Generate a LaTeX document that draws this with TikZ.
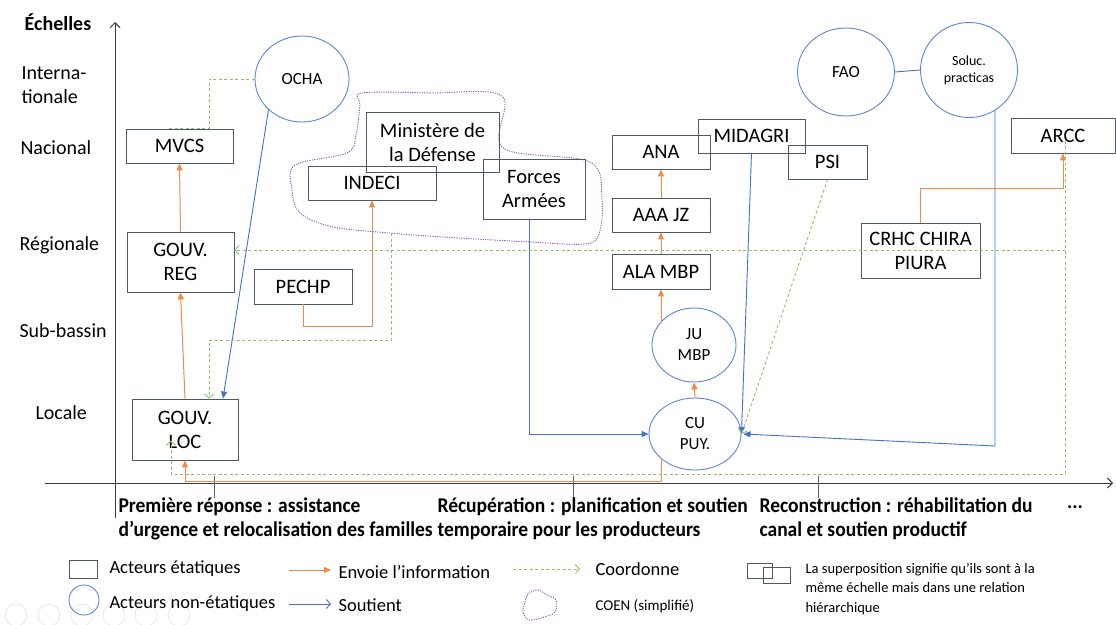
\documentclass[tikz,border=0pt]{standalone}
\usepackage{fontspec}
\setmainfont{Carlito}
\newfontfamily\phasefont{Carlito}[FakeStretch=0.93]
\usetikzlibrary{arrows.meta,shapes.geometric,calc}
\definecolor{boxc}{HTML}{4F5868}
\definecolor{circc}{HTML}{5B87D6}
\definecolor{bluec}{HTML}{4472C4}
\definecolor{orangec}{HTML}{F08A4B}
\definecolor{greenc}{HTML}{8CC36A}
\definecolor{purplec}{HTML}{8A55C8}
\definecolor{axisc}{HTML}{3A3A3A}
\newcommand\fsz[2]{\fontsize{#1}{#2}\selectfont}
\begin{document}
\begin{tikzpicture}[x=1pt,y=-1pt,
  box/.style={draw=boxc, line width=0.9pt, inner sep=0pt, align=center, text=black, font=\fsz{20.5}{24}},
  circ/.style={ellipse, draw=circc, line width=0.9pt, inner sep=0pt, align=center, text=black, font=\fsz{17}{21}},
  info/.style={draw=orangec, line width=1pt, -{Triangle[length=7pt,width=6pt,fill=orangec]}},
  supp/.style={draw=bluec, line width=0.9pt, -{Triangle[length=7pt,width=6pt,fill=bluec]}},
  coord/.style={draw=greenc, line width=0.9pt, dash pattern=on 3pt off 2.5pt},
  coordarr/.style={coord, -{Straight Barb[length=4pt,width=9pt]}},
  axis/.style={draw=axisc, line width=1pt},
  scalelab/.style={anchor=west, align=left, text=black, font=\fsz{20}{24}},
  phase/.style={anchor=north west, align=left, text=black, font=\phasefont\bfseries\fsz{21}{24}},
  legtxt/.style={anchor=west, align=left, text=black, font=\fsz{18.5}{22}},
  coen/.style={draw=purplec, line width=0.9pt, dash pattern=on 1.2pt off 1.2pt}
]
\useasboundingbox (0,0) rectangle (1116,624);
\fill[white] (0,0) rectangle (1116,624);

% faint slide-show controls
\foreach \cx in {16,49,82,114,146,179}{\draw[gray!18, line width=0.8pt] (\cx,615) circle (11);}

% axes
\coordinate (ya0) at (115,518); \coordinate (ya1) at (115,22);
\draw[axis, -{Straight Barb[length=5pt,width=10pt]}] (ya0) -- (ya1);
\coordinate (xa0) at (45,483); \coordinate (xa1) at (1113,483);
\draw[axis, -{Straight Barb[length=5pt,width=10pt]}] (xa0) -- (xa1);
\draw[draw=axisc!80, line width=1pt] (214,476) -- (214,498);
\draw[draw=axisc!80, line width=1pt] (573,476) -- (573,498);
\draw[draw=axisc!80, line width=1pt] (818,476) -- (818,498);

% scale labels
\node[anchor=center, font=\bfseries\fsz{20}{24}] (ech) at (58,22) {Échelles};
\node[scalelab] (sint) at (18,85) {Interna-\\tionale};
\node[scalelab] (snat) at (17,148) {Nacional};
\node[scalelab] (sreg) at (16,245) {Régionale};
\node[scalelab] (ssub) at (16,331) {Sub-bassin};
\node[scalelab] (sloc) at (32,413) {Locale};

% COEN blob
\draw[coen] plot[smooth cycle, tension=0.55] coordinates {(362,93) (430,93) (502,96) (503,148) (590,162) (602,200) (599,234) (585,244) (530,242) (443,237) (390,233) (333,227) (300,213) (292,190) (295,165) (347,153) (356,135) (360,105)};
\coordinate (coenb) at (391,233);

% state actors (boxes)
\node[box, minimum width=107, minimum height=34] (mvcs) at (179.5,146) {MVCS};
\node[box, minimum width=107, minimum height=60] (greg) at (180.5,262) {GOUV.\\REG};
\node[box, minimum width=98, minimum height=35] (pechp) at (303,286.5) {PECHP};
\node[box, minimum width=106, minimum height=61] (gloc) at (185,429.5) {GOUV.\\LOC};
\node[box, minimum width=133, minimum height=60] (mindef) at (432.5,142) {Ministère de\\la Défense};
\node[box, minimum width=128, minimum height=34] (indeci) at (372,183) {INDECI};
\node[box, minimum width=102, minimum height=60] (forces) at (534,189) {Forces\\Armées};
\node[box, minimum width=98, minimum height=34] (ana) at (661,152) {ANA};
\node[box, minimum width=107, minimum height=34] (midagri) at (751.5,136) {MIDAGRI};
\node[box, minimum width=79, minimum height=34] (psi) at (827.5,162) {PSI};
\node[box, minimum width=98, minimum height=34] (aaa) at (661,215) {AAA JZ};
\node[box, minimum width=98, minimum height=35] (ala) at (661,271.5) {ALA MBP};
\node[box, minimum width=119, minimum height=55] (crhc) at (920.5,250.5) {CRHC CHIRA\\PIURA};
\node[box, minimum width=104, minimum height=35] (arcc) at (1063,135.5) {ARCC};

% non-state actors (ellipses)
\node[circ, minimum width=94, minimum height=86] (ocha) at (302,79) {OCHA};
\node[circ, minimum width=97, minimum height=88] (fao) at (846,72) {FAO};
\node[circ, minimum width=97, minimum height=95, font=\fsz{14}{17}] (soluc) at (969,70) {Soluc.\\practicas};
\node[circ, minimum width=84, minimum height=74] (ju) at (694,345) {JU\\MBP};
\node[circ, minimum width=92, minimum height=72] (cu) at (695,434) {CU\\PUY.};

% helper coordinates
\coordinate (cuo) at ($(cu.center)+(-34,24)$);
\coordinate (juo) at ($(ju.center)+(-33,-23)$);
\coordinate (glocin) at ($(gloc.north)+(38,0)$);
\coordinate (forceso) at ($(forces.south)+(-5,0)$);
\coordinate (solo) at ($(soluc.center)+(26,40)$);
\coordinate (cue) at ($(cu.east)+(2,0)$);
\coordinate (arccg) at ($(arcc.center)+(2,5)$);
\coordinate (y250) at (0,250);
\coordinate (y474) at (0,474);
\coordinate (glocg) at ($(gloc.south)+(-14,-20)$);
\coordinate (glocn) at ($(gloc.north)+(24,0)$);
\coordinate (mvcsa) at ($(mvcs.north)+(29.5,0)$);
\coordinate (mvcsb) at ($(mvcs.north)+(-12.5,0)$);

% orange: sends information
\draw[info] (greg.north) -- (mvcs.south);
\draw[info] (gloc.north) -- (greg.south);
\draw[info] (pechp.south) -- ++(0,22) -| (indeci.south);
\draw[info] (cuo) -- ++(0,23) -| (gloc.south);
\draw[info] (cu.north) -- (ju.south);
\draw[info] (juo) -- (ala.south);
\draw[info] (ala.north) -- (aaa.south);
\draw[info] (aaa.north) -- (ana.south);
\draw[info] (crhc.north) -- ++(0,-34) -| (arcc.south);

% blue: supports
\draw[supp] (ocha.south west) -- (glocin);
\draw[supp] (forceso) |- (cu.west);
\draw[supp] (midagri.south) -- (cu.east);
\draw[supp] (solo) -- ++(0,336) -- (cue);
\draw[draw=bluec, line width=0.9pt] (fao.east) -- (soluc.west);

% green: coordinates
\draw[coord] (ocha.west) -| (mvcsa) -- (mvcsb);
\draw[coordarr] (arccg) -- (arccg |- y474) -| (glocg);
\draw[coordarr] (arccg |- y250) -- (greg.east |- y250);
\draw[coordarr] (psi.south) -- (cu.east);
\draw[coordarr] (coenb) -- ++(0,107) -| (glocn);

% phase labels
\node[phase] (ph1) at (115,494) {Première réponse : assistance\\d’urgence et relocalisation des familles};
\node[phase] (ph2) at (434,494) {Récupération : planification et soutien\\temporaire pour les producteurs};
\node[phase] (ph3) at (756,494) {Reconstruction : réhabilitation du\\canal et soutien productif};
\node[anchor=center, font=\bfseries\fsz{20}{24}] (dots) at (1075,507) {...};

% legend
\node[box, minimum width=28, minimum height=18] (lgbox) at (83,569) {};
\node[legtxt] (lgboxt) at (106,569) {Acteurs étatiques};
\node[circ, minimum width=30, minimum height=30] (lgcirc) at (84,600) {};
\node[legtxt] (lgcirct) at (106,604) {Acteurs non-étatiques};
\coordinate (lo1) at (289,570); \coordinate (lo2) at (331,570);
\draw[info] (lo1) -- (lo2);
\node[legtxt] (lot) at (335,572) {Envoie l’information};
\coordinate (lb1) at (289,604); \coordinate (lb2) at (331,604);
\draw[draw=bluec, line width=0.9pt, -{Straight Barb[length=4pt,width=9pt]}] (lb1) -- (lb2);
\node[legtxt] (lbt) at (335,605) {Soutient};
\coordinate (lg1) at (513,569); \coordinate (lg2) at (580,569);
\draw[coordarr] (lg1) -- (lg2);
\node[legtxt] (lgt) at (592,569) {Coordonne};
\draw[coen] plot[smooth cycle, tension=0.6] coordinates {(528,594) (538,590) (547,595) (556,600) (555,612) (544,617) (529,620) (523,612) (525,602)};
\node[legtxt, font=\fsz{15}{18}] (lct) at (592,606) {COEN (simplifié)};
\draw[draw=boxc, line width=0.9pt] (747,563) rectangle (772,578);
\draw[draw=boxc, line width=0.9pt] (763,567) rectangle (790,583);
\node[legtxt, font=\fsz{14.5}{19.5}] (lst) at (802,589) {La superposition signifie qu’ils sont à la\\même échelle mais dans une relation\\hiérarchique};
\end{tikzpicture}
\end{document}
